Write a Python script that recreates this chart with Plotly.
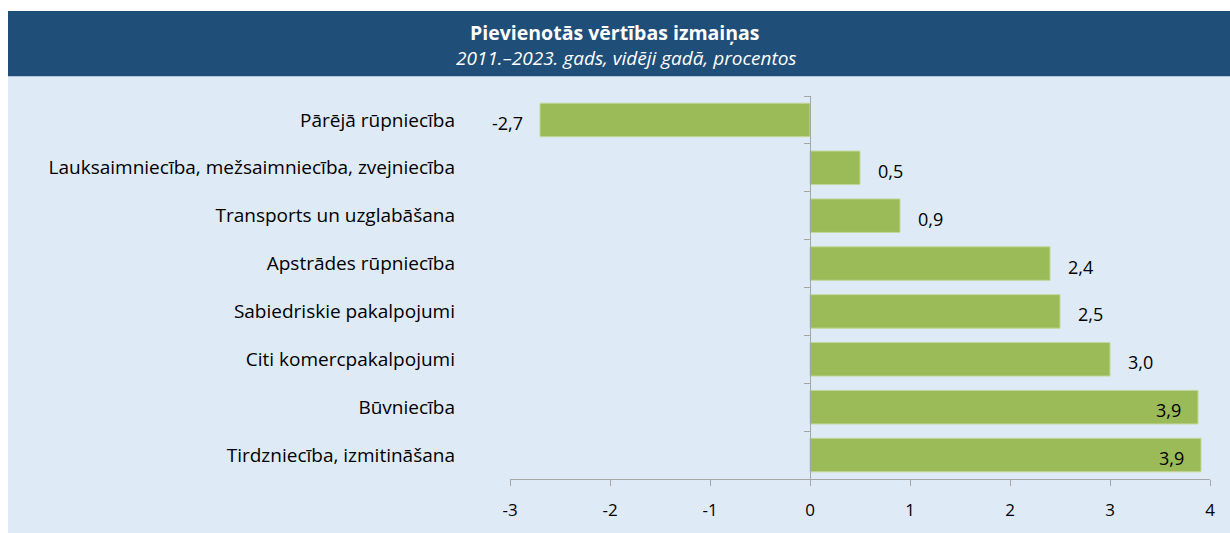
import plotly.graph_objects as go

categories = [
    "Pārējā rūpniecība",
    "Lauksaimniecība, mežsaimniecība, zvejniecība",
    "Transports un uzglabāšana",
    "Apstrādes rūpniecība",
    "Sabiedriskie pakalpojumi",
    "Citi komercpakalpojumi",
    "Būvniecība",
    "Tirdzniecība, izmitināšana",
]
values = [-2.7, 0.5, 0.9, 2.4, 2.5, 3.0, 3.88, 3.91]
x_ticks = [-3, -2, -1, 0, 1, 2, 3, 4]

title_text = "Pievienotās vērtības izmaiņas"
subtitle_text = "2011.–2023. gads, vidēji gadā, procentos"

FONT = "Open Sans"
W, H = 1230, 533
L, R, T, B = 510, 20, 96, 49
pw, ph = W - L - R, H - T - B


def px_x(p):
    return (p - L) / pw


def px_y(p):
    return (H - B - p) / ph


fig = go.Figure()
fig.add_trace(go.Bar(
    x=values, y=categories, orientation="h",
    marker=dict(color="#9BBB59", line=dict(color="#C4D79B", width=1)),
    hoverinfo="skip", showlegend=False,
))
fig.add_trace(go.Scatter(
    x=[0] * len(categories), y=categories, yaxis="y2", mode="markers",
    marker=dict(opacity=0), hoverinfo="skip", showlegend=False,
))


def fmt(v):
    return f"{v:.1f}".replace(".", ",")


annotations = []
for c, v in zip(categories, values):
    if v < 0:
        annotations.append(dict(x=v, y=c, text=fmt(v), xanchor="right", xshift=-15, showarrow=False))
    elif v > 3.5:
        annotations.append(dict(x=v, y=c, text=fmt(v), xanchor="right", xshift=-15, showarrow=False))
    else:
        annotations.append(dict(x=v, y=c, text=fmt(v), xanchor="left", xshift=16, showarrow=False))
for a in annotations:
    a["font"] = dict(family=FONT, size=18, color="#000000")
    a["yshift"] = -3

annotations.append(dict(xref="paper", yref="paper", x=px_x(615), y=px_y(32), xanchor="center", yanchor="middle",
                        text=f"<b>{title_text}</b>", showarrow=False,
                        font=dict(family=FONT, size=19.5, color="white")))
annotations.append(dict(xref="paper", yref="paper", x=px_x(626), y=px_y(58), xanchor="center", yanchor="middle",
                        text=f"<i>{subtitle_text}</i>", showarrow=False,
                        font=dict(family=FONT, size=19, color="white")))

shapes = [
    dict(type="rect", xref="paper", yref="paper", x0=px_x(8), x1=px_x(1232), y0=px_y(540), y1=px_y(76),
         fillcolor="#DEEAF6", line=dict(width=0), layer="below"),
    dict(type="rect", xref="paper", yref="paper", x0=px_x(8), x1=px_x(1232), y0=px_y(76), y1=px_y(10),
         fillcolor="#1F4E79", line=dict(width=0), layer="below"),
]

zero_pos = (0 - x_ticks[0]) / (x_ticks[-1] - x_ticks[0])

fig.update_layout(
    width=W, height=H,
    margin=dict(l=L, r=R, t=T, b=B, pad=0),
    paper_bgcolor="white", plot_bgcolor="rgba(0,0,0,0)",
    bargap=0.3,
    font=dict(family=FONT, size=16, color="#000000"),
    xaxis=dict(range=[x_ticks[0], x_ticks[-1]], tickvals=x_ticks, ticktext=[str(t) for t in x_ticks],
               showgrid=False, zeroline=False, showline=True, linecolor="#A6A6A6", linewidth=1,
               ticks="outside", ticklen=6, tickcolor="#A6A6A6", tickfont=dict(size=17), ticklabelstandoff=10),
    yaxis=dict(type="category", categoryarray=categories, range=[len(categories) - 0.5, -0.5],
               showgrid=False, zeroline=False, showline=False, ticks="", ticklabelstandoff=54,
               tickfont=dict(size=19)),
    yaxis2=dict(type="category", categoryarray=categories, range=[len(categories) - 0.5, -0.5],
                overlaying="y", anchor="free", position=zero_pos, side="left",
                showgrid=False, zeroline=False, showline=True, linecolor="#A6A6A6", linewidth=1,
                ticks="outside", ticklen=6, tickcolor="#A6A6A6", tickson="boundaries", showticklabels=False),
    annotations=annotations, shapes=shapes,
)

fig.write_html("out.html", config={"displayModeBar": False},
               post_script="document.body.style.margin='0';document.body.style.overflow='hidden';"
                           "document.body.style.background='#DEEAF6';")
